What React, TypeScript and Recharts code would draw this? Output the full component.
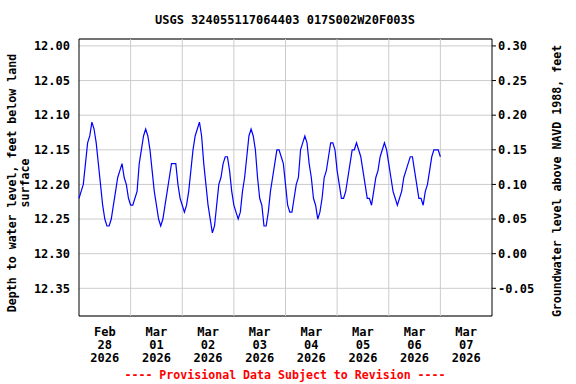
import {
  LineChart,
  Line,
  XAxis,
  YAxis,
  CartesianGrid,
  ReferenceLine,
  ReferenceArea,
} from "recharts";

// hourly depth to water (ft below land surface), starting Feb 28 2026 00:00
const depth = [
  12.22, 12.21, 12.2, 12.17, 12.14, 12.13, 12.11, 12.12, 12.14, 12.17, 12.2, 12.23,
  12.25, 12.26, 12.26, 12.25, 12.23, 12.21, 12.19, 12.18, 12.17, 12.19, 12.2, 12.22,
  12.23, 12.23, 12.22, 12.21, 12.17, 12.15, 12.13, 12.12, 12.13, 12.15, 12.18, 12.21,
  12.23, 12.25, 12.26, 12.25, 12.23, 12.21, 12.19, 12.17, 12.17, 12.17, 12.2, 12.22,
  12.23, 12.24, 12.23, 12.21, 12.18, 12.15, 12.13, 12.12, 12.11, 12.13, 12.17, 12.2,
  12.23, 12.25, 12.27, 12.26, 12.23, 12.2, 12.19, 12.17, 12.16, 12.16, 12.18, 12.21,
  12.23, 12.24, 12.25, 12.24, 12.21, 12.19, 12.16, 12.13, 12.12, 12.13, 12.15, 12.19,
  12.22, 12.23, 12.26, 12.26, 12.24, 12.21, 12.19, 12.17, 12.15, 12.15, 12.16, 12.17,
  12.2, 12.23, 12.24, 12.24, 12.22, 12.2, 12.19, 12.15, 12.14, 12.13, 12.14, 12.17,
  12.19, 12.22, 12.23, 12.25, 12.24, 12.22, 12.19, 12.18, 12.16, 12.14, 12.14, 12.15,
  12.18, 12.2, 12.22, 12.22, 12.21, 12.19, 12.17, 12.15, 12.15, 12.14, 12.15, 12.16,
  12.18, 12.2, 12.22, 12.22, 12.23, 12.21, 12.19, 12.18, 12.16, 12.15, 12.14, 12.15,
  12.17, 12.19, 12.21, 12.22, 12.23, 12.22, 12.21, 12.19, 12.18, 12.17, 12.16, 12.16,
  12.18, 12.2, 12.22, 12.22, 12.23, 12.21, 12.2, 12.18, 12.16, 12.15, 12.15, 12.15,
  12.16,
];

const tickHours = [12, 36, 60, 84, 108, 132, 156, 180];
const tickMonths = ["Feb", "Mar", "Mar", "Mar", "Mar", "Mar", "Mar", "Mar"];
const tickDays = ["28", "01", "02", "03", "04", "05", "06", "07"];
const tickYear = "2026";
const midnights = [24, 48, 72, 96, 120, 144, 168];

const leftTicks = [12.0, 12.05, 12.1, 12.15, 12.2, 12.25, 12.3, 12.35];
const rightTicks = [0.3, 0.25, 0.2, 0.15, 0.1, 0.05, 0.0, -0.05];

const data = depth.map((v, i) => ({ hour: i, depth: v }));

const FONT = "'DejaVu Sans Mono', monospace";

const DateTick = (props: any) => {
  const { x, y, payload } = props;
  const i = tickHours.indexOf(payload.value);
  return (
    <text
      x={x}
      y={y}
      textAnchor="middle"
      fontFamily={FONT}
      fontWeight="bold"
      fontSize={12}
      fill="#000"
    >
      <tspan x={x} y={y + 18}>{tickMonths[i]}</tspan>
      <tspan x={x} y={y + 31}>{tickDays[i]}</tspan>
      <tspan x={x} y={y + 44}>{tickYear}</tspan>
    </text>
  );
};

const tickStyle = { fontFamily: FONT, fontWeight: "bold", fontSize: 12, fill: "#000" };

export default function App() {
  return (
    <div style={{ position: "absolute", left: 0, top: 0, width: 576, height: 384, background: "#fff" }}>
      <LineChart
        width={576}
        height={384}
        data={data}
        margin={{ top: 39, right: 0, bottom: 0, left: 0 }}
      >
        <CartesianGrid yAxisId="left" vertical={false} stroke="#cccccc" />
        <XAxis
          dataKey="hour"
          type="number"
          domain={[0, 192]}
          ticks={tickHours}
          tick={<DateTick />}
          tickLine={false}
          tickSize={0}
          axisLine={false}
          height={68}
          interval={0}
        />
        <YAxis
          yAxisId="left"
          type="number"
          reversed
          domain={[11.99, 12.39]}
          ticks={leftTicks}
          tickFormatter={(v: number) => v.toFixed(2)}
          tick={tickStyle}
          tickLine={false}
          tickSize={0}
          tickMargin={9}
          axisLine={false}
          width={79}
          interval={0}
        />
        <YAxis
          yAxisId="right"
          orientation="right"
          type="number"
          domain={[-0.09, 0.31]}
          ticks={rightTicks}
          tickFormatter={(v: number) => v.toFixed(2)}
          tick={tickStyle}
          tickLine={{ stroke: "#000" }}
          tickSize={4}
          tickMargin={2}
          axisLine={false}
          width={84}
          interval={0}
          allowDataOverflow
        />
        {midnights.map((h) => (
          <ReferenceLine key={h} x={h} yAxisId="left" stroke="#cccccc" />
        ))}
        <Line
          yAxisId="left"
          dataKey="depth"
          type="linear"
          stroke="#0000ff"
          strokeWidth={1.2}
          dot={false}
          isAnimationActive={false}
        />
        <ReferenceArea
          yAxisId="left"
          x1={0}
          x2={192}
          y1={11.99}
          y2={12.39}
          fill="none"
          fillOpacity={0}
          stroke="#000"
          strokeWidth={1}
          strokeOpacity={1}
        />
      </LineChart>
      <svg
        width={576}
        height={384}
        style={{ position: "absolute", left: 0, top: 0, pointerEvents: "none" }}
        fontFamily={FONT}
        fontWeight="bold"
        fontSize={12}
      >
        <text x={285} y={24} textAnchor="middle" fill="#000">
          USGS 324055117064403 017S002W20F003S
        </text>
        <text
          transform="translate(12,183) rotate(-90)"
          textAnchor="middle"
          dominantBaseline="central"
          fill="#000"
          fontSize={11.6}
        >
          Depth to water level, feet below land
        </text>
        <text
          transform="translate(25,183) rotate(-90)"
          textAnchor="middle"
          dominantBaseline="central"
          fill="#000"
          fontSize={11.6}
        >
          surface
        </text>
        <text
          transform="translate(557,181) rotate(-90)"
          textAnchor="middle"
          dominantBaseline="central"
          fill="#000"
          fontSize={11.6}
        >
          Groundwater level above NAVD 1988, feet
        </text>
        <text x={285} y={379} textAnchor="middle" fill="#ff0000" fontSize={11.6}>
          ---- Provisional Data Subject to Revision ----
        </text>
      </svg>
    </div>
  );
}
